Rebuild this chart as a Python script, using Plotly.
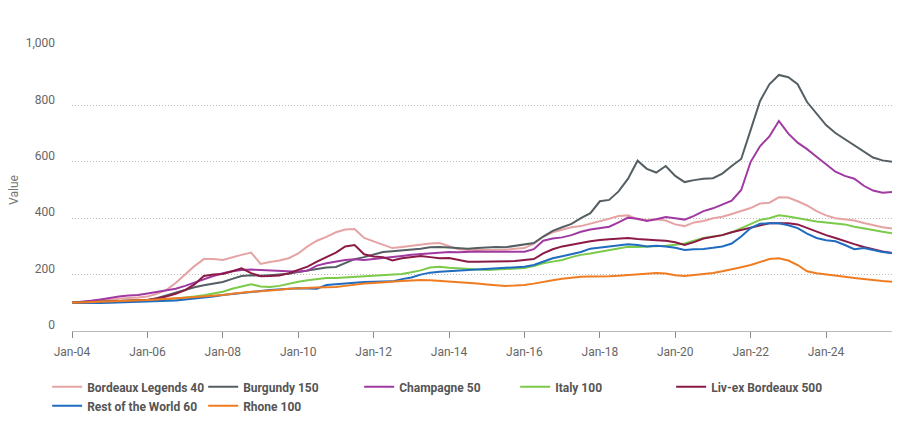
import pandas as pd
import plotly.graph_objects as go

dates = pd.date_range("2004-01-01", "2025-10-01", freq="QS")

bordeaux_legends_40 = [
    100, 103, 106, 110, 113, 115, 117, 119, 122, 132, 145, 170,
    200, 230, 255, 255, 252, 262, 270, 278, 238, 245, 250, 258,
    275, 300, 320, 334, 350, 360, 362, 330, 318, 305, 294, 298,
    302, 308, 310, 312, 300, 290, 287, 287, 287, 286, 288, 292,
    294, 310, 334, 350, 360, 368, 372, 380, 388, 398, 408, 410,
    396, 394, 396, 392, 378, 372, 385, 390, 400, 405, 415, 425,
    436, 452, 455, 474, 473, 460, 445, 425, 410, 400, 395, 392,
    383, 375, 368, 363]
burgundy_150 = [
    100, 101, 103, 104, 105, 106, 107, 108, 110, 116, 126, 135,
    145, 155, 162, 168, 174, 185, 195, 198, 196, 198, 200, 203,
    209, 214, 220, 225, 227, 240, 255, 262, 272, 280, 283, 286,
    287, 292, 297, 298, 296, 294, 292, 294, 296, 298, 297, 302,
    305, 312, 335, 355, 368, 380, 400, 418, 460, 465, 495, 540,
    604, 575, 562, 585, 550, 528, 535, 540, 542, 558, 585, 610,
    713, 815, 875, 908, 900, 875, 812, 770, 730, 702, 680, 658,
    635, 615, 605, 600]
champagne_50 = [
    100, 103, 107, 112, 118, 122, 126, 128, 133, 138, 143, 150,
    160, 172, 185, 195, 205, 212, 216, 218, 216, 214, 213, 212,
    210, 214, 232, 240, 245, 252, 254, 252, 255, 258, 262, 266,
    270, 272, 276, 278, 280, 279, 281, 282, 281, 280, 281, 281,
    281, 290, 320, 328, 332, 340, 352, 360, 366, 370, 385, 402,
    398, 390, 396, 404, 400, 395, 408, 425, 435, 448, 462, 500,
    600, 655, 690, 745, 700, 668, 645, 618, 590, 565, 550, 540,
    515, 498, 490, 493]
italy_100 = [
    100, 101, 102, 103, 104, 105, 106, 107, 108, 110, 112, 115,
    118, 122, 127, 133, 139, 150, 158, 166, 158, 156, 160, 168,
    175, 180, 185, 188, 188, 190, 192, 193, 195, 197, 199, 202,
    208, 215, 225, 228, 224, 222, 218, 217, 216, 218, 220, 222,
    223, 230, 240, 246, 252, 262, 270, 275, 281, 288, 295, 299,
    298, 299, 300, 302, 306, 310, 320, 330, 335, 340, 350, 365,
    382, 394, 400, 410, 406, 400, 393, 388, 385, 382, 378, 370,
    365, 358, 352, 347]
livex_bordeaux_500 = [
    100, 101, 103, 104, 105, 106, 107, 108, 110, 115, 122, 132,
    145, 165, 195, 200, 202, 212, 222, 205, 194, 195, 197, 205,
    216, 228, 246, 262, 278, 300, 305, 272, 264, 262, 250, 258,
    262, 266, 262, 258, 259, 252, 246, 246, 246, 246, 246, 248,
    252, 255, 275, 290, 300, 305, 312, 318, 323, 325, 328, 330,
    326, 323, 322, 320, 315, 305, 315, 328, 335, 340, 350, 358,
    365, 372, 382, 382, 382, 378, 365, 352, 340, 330, 318, 308,
    298, 290, 282, 277]
rest_of_world_60 = [
    100, 99, 98, 99, 100, 101, 102, 103, 104, 105, 106, 108,
    112, 115, 118, 122, 128, 132, 136, 140, 142, 145, 147, 150,
    152, 151, 150, 163, 166, 170, 172, 174, 175, 175, 176, 184,
    190, 200, 207, 210, 212, 214, 216, 218, 220, 222, 223, 225,
    228, 234, 245, 258, 265, 272, 280, 292, 296, 300, 305, 308,
    305, 300, 302, 300, 295, 287, 290, 291, 295, 300, 310, 335,
    365, 380, 382, 382, 375, 365, 345, 330, 322, 318, 305, 290,
    294, 287, 280, 277]
rhone_100 = [
    100, 101, 102, 103, 104, 105, 106, 108, 110, 112, 113, 116,
    118, 120, 123, 126, 128, 132, 136, 139, 141, 143, 146, 150,
    152, 153, 154, 155, 156, 160, 165, 168, 170, 173, 175, 177,
    179, 181, 180, 178, 176, 173, 171, 168, 165, 162, 160, 161,
    163, 168, 175, 180, 185, 189, 192, 193, 193, 194, 196, 199,
    202, 204, 206, 204, 198, 195, 198, 202, 206, 212, 218, 226,
    234, 245, 255, 258, 250, 234, 212, 205, 200, 196, 192, 188,
    184, 180, 177, 175]

series_names = ["Bordeaux Legends 40", "Burgundy 150", "Champagne 50", "Italy 100",
                "Liv-ex Bordeaux 500", "Rest of the World 60", "Rhone 100"]
series_values = [bordeaux_legends_40, burgundy_150, champagne_50, italy_100,
                 livex_bordeaux_500, rest_of_world_60, rhone_100]
series_colors = ["#e6a3a3", "#555f63", "#a03aa2", "#7cca4a",
                 "#8c1a46", "#1f6cc0", "#f07c22"]

y_ticks = [0, 200, 400, 600, 800, 1000]

fig = go.Figure()
for name, vals, col in zip(series_names, series_values, series_colors):
    fig.add_trace(go.Scatter(x=dates, y=vals, name=name, mode="lines",
                             line=dict(color=col, width=2)))

FONT = "Roboto"
fig.update_layout(
    width=902, height=434,
    margin=dict(l=72, r=10, t=49, b=103, autoexpand=False),
    plot_bgcolor="white", paper_bgcolor="white",
    font=dict(family=FONT, size=12, color="#666666"),
    showlegend=True,
    legend=dict(orientation="h", xref="container", yref="container",
                x=0.0523, y=0.142, xanchor="left", yanchor="top",
                entrywidth=111, entrywidthmode="pixels",
                font=dict(family=FONT, size=12, color="#555555", weight="bold"),
                itemwidth=30, tracegroupgap=0),
    xaxis=dict(range=["2004-01-01", "2025-10-01"], dtick="M24", tick0="2004-01-01",
               tickformat="%b-%y", showgrid=False, showline=True,
               linecolor="#bbbbbb", linewidth=1, ticks="outside", ticklen=6,
               tickcolor="#888888", tickfont=dict(size=12, color="#666666"),
               ticklabelstandoff=4, zeroline=False),
    yaxis=dict(range=[0, 1000], tickvals=y_ticks, tickformat=",",
               showgrid=True, gridcolor="#bdbdbd", griddash="1px,2px", gridwidth=1,
               zeroline=False, showline=False, ticks="",
               ticklabelstandoff=16, ticklabelshift=-6,
               tickfont=dict(size=12, color="#666666"),
               title=dict(text="Value", font=dict(size=12, color="#777777"), standoff=4)),
)

fig.write_html("out.html", config={"displayModeBar": False},
               post_script="document.body.style.margin='0';document.body.style.padding='0';")
